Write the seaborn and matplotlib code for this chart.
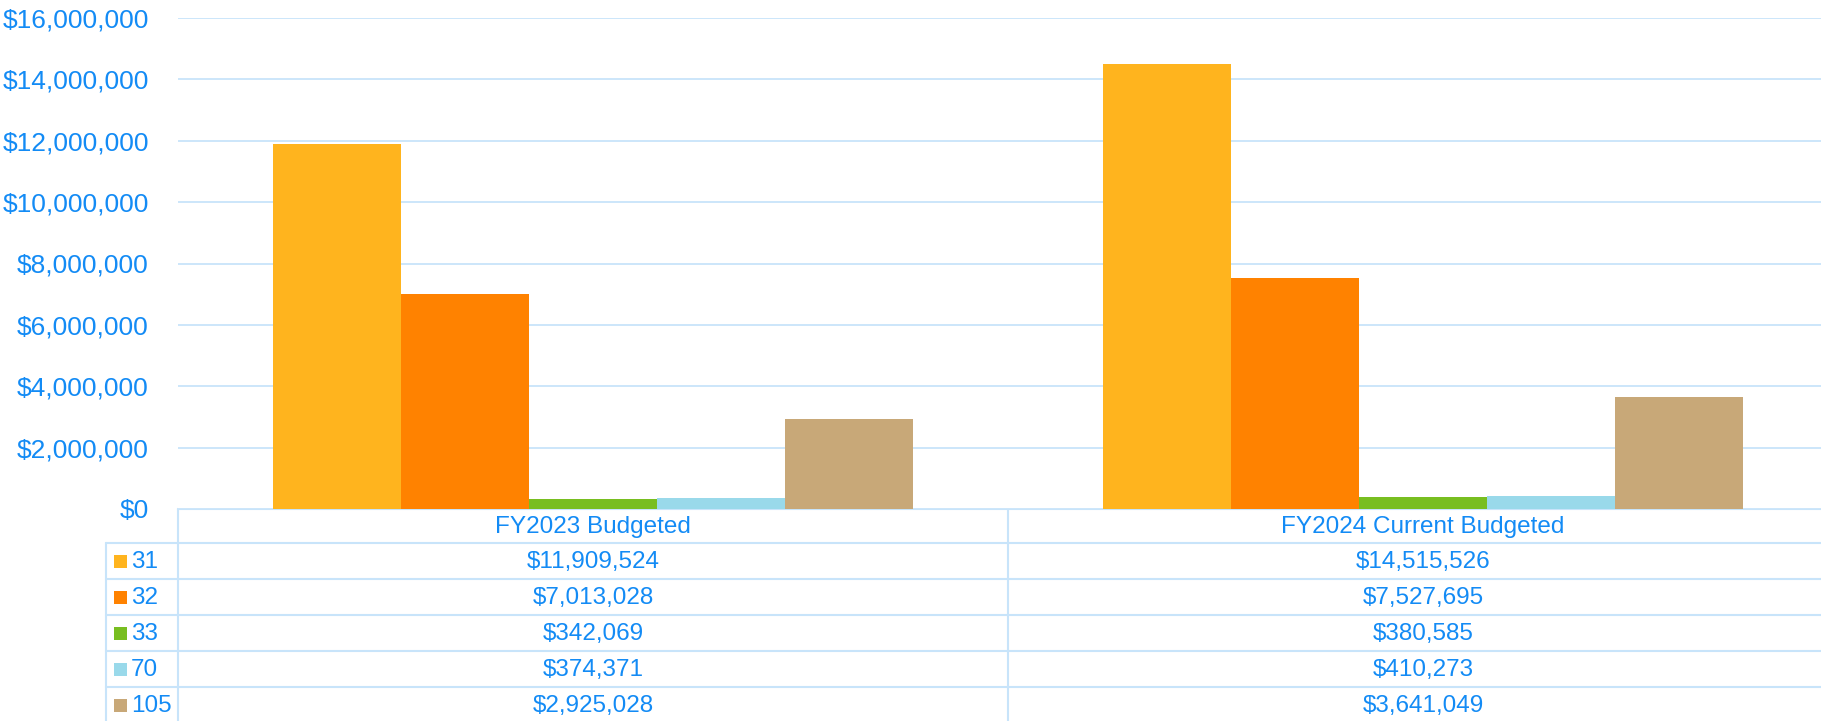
import matplotlib
matplotlib.use("Agg")
import matplotlib.pyplot as plt
import matplotlib.ticker as mticker
from matplotlib.patches import Rectangle
import seaborn as sns
import pandas as pd

# Budget by fund, two fiscal-year scenarios
categories = ["FY2023 Budgeted", "FY2024 Current Budgeted"]
funds = ["31", "32", "33", "70", "105"]
fy2023 = [11909524, 7013028, 342069, 374371, 2925028]
fy2024 = [14515526, 7527695, 380585, 410273, 3641049]
fund_colors = ["#FFB41E", "#FF8200", "#78BE20", "#99D9EA", "#C8A878"]
yticks = [0, 2000000, 4000000, 6000000, 8000000, 10000000, 12000000, 14000000, 16000000]

rows = []
for cat, vals in zip(categories, [fy2023, fy2024]):
    for f, v in zip(funds, vals):
        rows.append({"category": cat, "fund": f, "amount": v})
df = pd.DataFrame(rows)

sns.set_theme(style="white")
plt.rcParams["font.family"] = ["Liberation Sans", "DejaVu Sans"]

TXT = "#138BF5"
GRID = "#C8E4FA"
TICK_FS = 19
TABLE_FS = 17.5

W, H = 1821, 721
fig = plt.figure(figsize=(W / 100, H / 100), dpi=100)

# layout in pixels
left_px, right_px = 178, 1838
top_px, base_px = 18, 509
label_col_px = 106
row_h = 36

ax = fig.add_axes([left_px / W, (H - base_px) / H,
                   (right_px - left_px) / W, (base_px - top_px) / H])

sns.barplot(data=df, x="category", y="amount", hue="fund", order=categories,
            hue_order=funds, palette=fund_colors, width=0.771, gap=0,
            saturation=1, linewidth=0, legend=False, ax=ax)

ax.set_xlim(-0.5, len(categories) - 0.5)
ax.set_ylim(0, 16000000)
ax.set_yticks(yticks)
ax.yaxis.set_major_formatter(mticker.FuncFormatter(lambda v, p: f"${v:,.0f}"))
ax.tick_params(axis="y", length=0, pad=21, labelsize=TICK_FS, labelcolor=TXT)
ax.set_xticks([])
ax.set_xlabel("")
ax.set_ylabel("")
for s in ax.spines.values():
    s.set_visible(False)
ax.set_axisbelow(True)
ax.yaxis.grid(True, color=GRID, linewidth=1.3)
ax.xaxis.grid(False)

# data table under the plot, drawn in pixel coordinates
tax = fig.add_axes([0, 0, 1, 1], zorder=-1)
tax.set_xlim(0, W)
tax.set_ylim(H, 0)
tax.axis("off")

ncat = len(categories)
col_w = (right_px - left_px) / ncat
col_edges = [left_px + i * col_w for i in range(ncat + 1)]
lw = 1.5

# header row
tax.plot([left_px, W], [base_px, base_px], color=GRID, lw=lw)
hdr_bottom = base_px + 34
for i, cat in enumerate(categories):
    tax.text((col_edges[i] + col_edges[i + 1]) / 2, (base_px + hdr_bottom) / 2 + 1, cat,
             ha="center", va="center", fontsize=TABLE_FS, color=TXT)

# fund rows
all_vals = [fy2023, fy2024]
for r, (f, c) in enumerate(zip(funds, fund_colors)):
    y0 = hdr_bottom + r * row_h
    y1 = y0 + row_h
    tax.plot([label_col_px, W], [y0, y0], color=GRID, lw=lw)
    yc = (y0 + y1) / 2
    tax.add_patch(Rectangle((114, yc - 6.5), 13, 13, color=c, lw=0))
    tax.text(131, yc + 1, f, ha="left", va="center", fontsize=TABLE_FS, color=TXT)
    for i in range(ncat):
        tax.text((col_edges[i] + col_edges[i + 1]) / 2, yc + 1, f"${all_vals[i][r]:,.0f}",
                 ha="center", va="center", fontsize=TABLE_FS, color=TXT)

# vertical rules
tax.plot([label_col_px, label_col_px], [hdr_bottom, H], color=GRID, lw=lw)
for x in col_edges[:-1]:
    tax.plot([x, x], [base_px, H], color=GRID, lw=lw)

fig.savefig("out.png", dpi=100)
